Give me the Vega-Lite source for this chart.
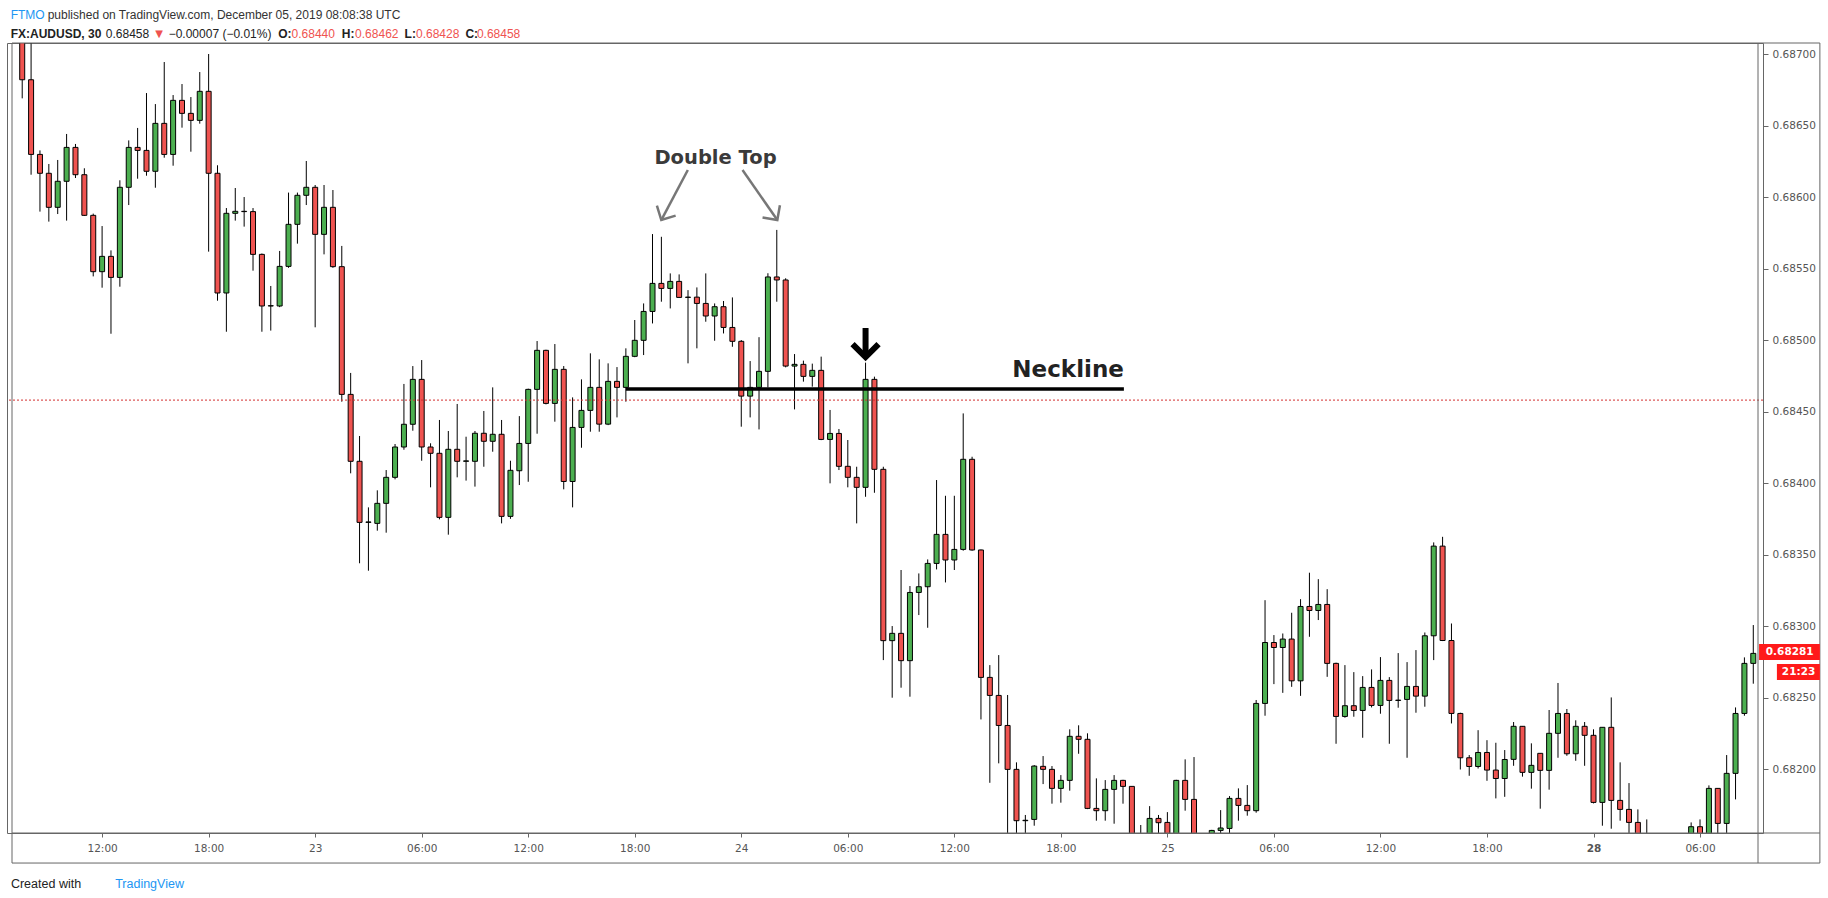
{
"$schema": "https://vega.github.io/schema/vega-lite/v6.json",
"width": 1756, "height": 790,
"autosize": {"type": "none"},
"padding": {"left": 7, "top": 43, "right": 65, "bottom": 65},
"background": "white",
"config": {"view": {"stroke": "#666", "strokeWidth": 1}},
"datasets": {"bars": [
{"n":0,"open":0.68712,"high":0.6872,"low":0.68669,"close":0.68682},
{"n":1,"open":0.68682,"high":0.68712,"low":0.686156,"close":0.686298},
{"n":2,"open":0.686298,"high":0.686326,"low":0.685898,"close":0.686166},
{"n":3,"open":0.686166,"high":0.686231,"low":0.685828,"close":0.685928},
{"n":4,"open":0.685928,"high":0.686259,"low":0.685881,"close":0.68611},
{"n":5,"open":0.68611,"high":0.686441,"low":0.685835,"close":0.686347},
{"n":6,"open":0.686347,"high":0.686371,"low":0.686133,"close":0.686156},
{"n":7,"open":0.686156,"high":0.686201,"low":0.685868,"close":0.685872},
{"n":8,"open":0.685872,"high":0.685884,"low":0.685445,"close":0.685478},
{"n":9,"open":0.685478,"high":0.685797,"low":0.685366,"close":0.685585},
{"n":10,"open":0.685585,"high":0.685627,"low":0.685044,"close":0.685438},
{"n":11,"open":0.685438,"high":0.686117,"low":0.685373,"close":0.686068},
{"n":12,"open":0.686068,"high":0.686396,"low":0.685944,"close":0.686347},
{"n":13,"open":0.686347,"high":0.686483,"low":0.686128,"close":0.686326},
{"n":14,"open":0.686326,"high":0.686727,"low":0.686149,"close":0.68618},
{"n":15,"open":0.68618,"high":0.68665,"low":0.686065,"close":0.686515},
{"n":16,"open":0.686515,"high":0.686944,"low":0.686275,"close":0.686298},
{"n":17,"open":0.686298,"high":0.686713,"low":0.686219,"close":0.686676},
{"n":18,"open":0.686676,"high":0.68679,"low":0.686485,"close":0.686585},
{"n":19,"open":0.686585,"high":0.686699,"low":0.686317,"close":0.686536},
{"n":20,"open":0.686536,"high":0.686874,"low":0.686513,"close":0.686739},
{"n":21,"open":0.686739,"high":0.687,"low":0.685618,"close":0.686166},
{"n":22,"open":0.686166,"high":0.686222,"low":0.685275,"close":0.685329},
{"n":23,"open":0.685329,"high":0.685923,"low":0.685058,"close":0.685886},
{"n":24,"open":0.685886,"high":0.686063,"low":0.685835,"close":0.6859},
{"n":25,"open":0.6859,"high":0.686,"low":0.685793,"close":0.685898},
{"n":26,"open":0.685898,"high":0.685923,"low":0.685485,"close":0.685599},
{"n":27,"open":0.685599,"high":0.685605,"low":0.685058,"close":0.685238},
{"n":28,"open":0.685238,"high":0.685378,"low":0.685066,"close":0.68524},
{"n":29,"open":0.685238,"high":0.685623,"low":0.68523,"close":0.685515},
{"n":30,"open":0.685515,"high":0.686031,"low":0.685505,"close":0.685809},
{"n":31,"open":0.685809,"high":0.686031,"low":0.685674,"close":0.686012},
{"n":32,"open":0.686012,"high":0.686252,"low":0.685944,"close":0.686068},
{"n":33,"open":0.686068,"high":0.686084,"low":0.685089,"close":0.685739},
{"n":34,"open":0.685739,"high":0.686084,"low":0.685599,"close":0.685928},
{"n":35,"open":0.685928,"high":0.686049,"low":0.685505,"close":0.685513},
{"n":36,"open":0.685513,"high":0.685658,"low":0.684569,"close":0.68462},
{"n":37,"open":0.68462,"high":0.68477,"low":0.684068,"close":0.684152},
{"n":38,"open":0.684152,"high":0.684329,"low":0.683439,"close":0.683725},
{"n":39,"open":0.683725,"high":0.68383,"low":0.683387,"close":0.683728},
{"n":40,"open":0.683718,"high":0.683949,"low":0.683667,"close":0.683858},
{"n":41,"open":0.683858,"high":0.684091,"low":0.683653,"close":0.68404},
{"n":42,"open":0.68404,"high":0.684273,"low":0.684026,"close":0.684252},
{"n":43,"open":0.684252,"high":0.684693,"low":0.684233,"close":0.684411},
{"n":44,"open":0.684411,"high":0.684818,"low":0.684366,"close":0.684725},
{"n":45,"open":0.684725,"high":0.68486,"low":0.684156,"close":0.684252},
{"n":46,"open":0.684252,"high":0.684278,"low":0.68397,"close":0.684208},
{"n":47,"open":0.684208,"high":0.684441,"low":0.683746,"close":0.68376},
{"n":48,"open":0.68376,"high":0.684364,"low":0.683639,"close":0.684236},
{"n":49,"open":0.684236,"high":0.684553,"low":0.68404,"close":0.684152},
{"n":50,"open":0.684152,"high":0.684324,"low":0.684017,"close":0.684155},
{"n":51,"open":0.684152,"high":0.684364,"low":0.683975,"close":0.684348},
{"n":52,"open":0.684348,"high":0.684504,"low":0.684114,"close":0.684292},
{"n":53,"open":0.684292,"high":0.684669,"low":0.684219,"close":0.684341},
{"n":54,"open":0.684341,"high":0.684441,"low":0.683718,"close":0.683767},
{"n":55,"open":0.683767,"high":0.684156,"low":0.68375,"close":0.684089},
{"n":56,"open":0.684086,"high":0.684468,"low":0.683986,"close":0.684277},
{"n":57,"open":0.684277,"high":0.68466,"low":0.684009,"close":0.684655},
{"n":58,"open":0.684655,"high":0.684993,"low":0.684345,"close":0.684928},
{"n":59,"open":0.684928,"high":0.684932,"low":0.68455,"close":0.684557},
{"n":60,"open":0.684557,"high":0.684972,"low":0.684429,"close":0.684795},
{"n":61,"open":0.684795,"high":0.684818,"low":0.683956,"close":0.684011},
{"n":62,"open":0.684011,"high":0.684599,"low":0.68383,"close":0.684389},
{"n":63,"open":0.684389,"high":0.684725,"low":0.684247,"close":0.684508},
{"n":64,"open":0.684508,"high":0.684907,"low":0.684359,"close":0.684669},
{"n":65,"open":0.684669,"high":0.684865,"low":0.684359,"close":0.684412},
{"n":66,"open":0.684412,"high":0.684837,"low":0.684405,"close":0.684711},
{"n":67,"open":0.684711,"high":0.684811,"low":0.684459,"close":0.684669},
{"n":68,"open":0.684669,"high":0.684942,"low":0.684569,"close":0.684886},
{"n":69,"open":0.684886,"high":0.68514,"low":0.68488,"close":0.684998},
{"n":70,"open":0.684998,"high":0.685256,"low":0.684895,"close":0.6852},
{"n":71,"open":0.6852,"high":0.685741,"low":0.685116,"close":0.685396},
{"n":72,"open":0.685396,"high":0.685722,"low":0.685268,"close":0.685361},
{"n":73,"open":0.685361,"high":0.685466,"low":0.685221,"close":0.68541},
{"n":74,"open":0.68541,"high":0.685459,"low":0.685295,"close":0.685298},
{"n":75,"open":0.685298,"high":0.685349,"low":0.684837,"close":0.6853},
{"n":76,"open":0.6853,"high":0.685368,"low":0.684942,"close":0.685256},
{"n":77,"open":0.685256,"high":0.685466,"low":0.685128,"close":0.685168},
{"n":78,"open":0.685168,"high":0.685256,"low":0.684995,"close":0.685233},
{"n":79,"open":0.685233,"high":0.685273,"low":0.685046,"close":0.685088},
{"n":80,"open":0.685088,"high":0.685298,"low":0.684953,"close":0.684991},
{"n":81,"open":0.684991,"high":0.685,"low":0.684394,"close":0.684608},
{"n":82,"open":0.684608,"high":0.684853,"low":0.684459,"close":0.684669},
{"n":83,"open":0.684669,"high":0.68502,"low":0.684375,"close":0.684781},
{"n":84,"open":0.684781,"high":0.685467,"low":0.684669,"close":0.685441},
{"n":85,"open":0.685441,"high":0.68577,"low":0.685268,"close":0.68542},
{"n":86,"open":0.68542,"high":0.685432,"low":0.684809,"close":0.684818},
{"n":87,"open":0.684818,"high":0.684902,"low":0.684515,"close":0.68483},
{"n":88,"open":0.68483,"high":0.684856,"low":0.684709,"close":0.684746},
{"n":89,"open":0.684746,"high":0.684835,"low":0.684674,"close":0.684788},
{"n":90,"open":0.684788,"high":0.684884,"low":0.6843,"close":0.684305},
{"n":91,"open":0.684305,"high":0.684511,"low":0.683998,"close":0.684347},
{"n":92,"open":0.684347,"high":0.684378,"low":0.684091,"close":0.684117},
{"n":93,"open":0.684117,"high":0.684301,"low":0.68397,"close":0.68404},
{"n":94,"open":0.68404,"high":0.684114,"low":0.683718,"close":0.68397},
{"n":95,"open":0.68397,"high":0.684842,"low":0.683904,"close":0.684725},
{"n":96,"open":0.684725,"high":0.684744,"low":0.683932,"close":0.684096},
{"n":97,"open":0.684096,"high":0.684114,"low":0.682762,"close":0.682898},
{"n":98,"open":0.682898,"high":0.683,"low":0.682499,"close":0.682949},
{"n":99,"open":0.682949,"high":0.683392,"low":0.682569,"close":0.682758},
{"n":100,"open":0.682758,"high":0.68328,"low":0.682506,"close":0.683235},
{"n":101,"open":0.683235,"high":0.683368,"low":0.683077,"close":0.683275},
{"n":102,"open":0.683275,"high":0.683466,"low":0.682988,"close":0.683438},
{"n":103,"open":0.683438,"high":0.684021,"low":0.683396,"close":0.683641},
{"n":104,"open":0.683641,"high":0.683911,"low":0.683305,"close":0.683462},
{"n":105,"open":0.683462,"high":0.683911,"low":0.683392,"close":0.683536},
{"n":106,"open":0.683536,"high":0.684487,"low":0.683527,"close":0.684166},
{"n":107,"open":0.684166,"high":0.684184,"low":0.683527,"close":0.683532},
{"n":108,"open":0.683532,"high":0.683535,"low":0.682347,"close":0.682641},
{"n":109,"open":0.682641,"high":0.682727,"low":0.681904,"close":0.682515},
{"n":110,"open":0.682515,"high":0.682797,"low":0.68204,"close":0.682305},
{"n":111,"open":0.682305,"high":0.682518,"low":0.6815,"close":0.681998},
{"n":112,"open":0.681998,"high":0.682047,"low":0.6815,"close":0.681639},
{"n":113,"open":0.681639,"high":0.681679,"low":0.6815,"close":0.681642},
{"n":114,"open":0.681648,"high":0.682028,"low":0.681604,"close":0.682021},
{"n":115,"open":0.682019,"high":0.682091,"low":0.681895,"close":0.681998},
{"n":116,"open":0.681998,"high":0.682021,"low":0.681758,"close":0.681865},
{"n":117,"open":0.681865,"high":0.681958,"low":0.681765,"close":0.681921},
{"n":118,"open":0.681921,"high":0.682278,"low":0.681849,"close":0.682229},
{"n":119,"open":0.682229,"high":0.682306,"low":0.682107,"close":0.682208},
{"n":120,"open":0.682208,"high":0.68225,"low":0.68172,"close":0.681725},
{"n":121,"open":0.681725,"high":0.681935,"low":0.681639,"close":0.681709},
{"n":122,"open":0.681709,"high":0.681923,"low":0.681639,"close":0.681858},
{"n":123,"open":0.681858,"high":0.681958,"low":0.681618,"close":0.681921},
{"n":124,"open":0.681921,"high":0.681925,"low":0.681758,"close":0.681879},
{"n":125,"open":0.681879,"high":0.68188,"low":0.6814,"close":0.68145},
{"n":126,"open":0.68145,"high":0.681609,"low":0.68135,"close":0.68148},
{"n":127,"open":0.68148,"high":0.681741,"low":0.68145,"close":0.681655},
{"n":128,"open":0.681655,"high":0.681679,"low":0.68155,"close":0.681625},
{"n":129,"open":0.681627,"high":0.681699,"low":0.68145,"close":0.6815},
{"n":130,"open":0.6815,"high":0.681925,"low":0.68148,"close":0.681921},
{"n":131,"open":0.681921,"high":0.682068,"low":0.681709,"close":0.681788},
{"n":132,"open":0.681788,"high":0.682084,"low":0.6814,"close":0.68145},
{"n":133,"open":0.68145,"high":0.68154,"low":0.68142,"close":0.6815},
{"n":134,"open":0.6815,"high":0.681575,"low":0.68148,"close":0.681571},
{"n":135,"open":0.681571,"high":0.681713,"low":0.68154,"close":0.681588},
{"n":136,"open":0.681585,"high":0.681811,"low":0.68154,"close":0.681795},
{"n":137,"open":0.681795,"high":0.681865,"low":0.681639,"close":0.681746},
{"n":138,"open":0.681746,"high":0.681888,"low":0.681674,"close":0.681709},
{"n":139,"open":0.681709,"high":0.682483,"low":0.681695,"close":0.682459},
{"n":140,"open":0.682459,"high":0.683181,"low":0.682373,"close":0.682885},
{"n":141,"open":0.682885,"high":0.682937,"low":0.682594,"close":0.68285},
{"n":142,"open":0.68285,"high":0.682948,"low":0.682533,"close":0.682909},
{"n":143,"open":0.682909,"high":0.683093,"low":0.682575,"close":0.682617},
{"n":144,"open":0.682617,"high":0.683188,"low":0.682512,"close":0.683137},
{"n":145,"open":0.683137,"high":0.683373,"low":0.682925,"close":0.683109},
{"n":146,"open":0.683109,"high":0.683328,"low":0.683042,"close":0.683151},
{"n":147,"open":0.683151,"high":0.683258,"low":0.682645,"close":0.682739},
{"n":148,"open":0.682739,"high":0.682744,"low":0.682177,"close":0.682368},
{"n":149,"open":0.682368,"high":0.682727,"low":0.682359,"close":0.682443},
{"n":150,"open":0.682443,"high":0.682678,"low":0.682366,"close":0.68241},
{"n":151,"open":0.68241,"high":0.68265,"low":0.682219,"close":0.682571},
{"n":152,"open":0.682571,"high":0.682697,"low":0.682431,"close":0.682445},
{"n":153,"open":0.682445,"high":0.682783,"low":0.682387,"close":0.68262},
{"n":154,"open":0.68262,"high":0.682643,"low":0.682177,"close":0.68248},
{"n":155,"open":0.68248,"high":0.682811,"low":0.682429,"close":0.682482},
{"n":156,"open":0.682487,"high":0.682748,"low":0.682079,"close":0.682578},
{"n":157,"open":0.682578,"high":0.682832,"low":0.682394,"close":0.68251},
{"n":158,"open":0.68251,"high":0.682955,"low":0.682436,"close":0.682932},
{"n":159,"open":0.682932,"high":0.683585,"low":0.682762,"close":0.683559},
{"n":160,"open":0.683559,"high":0.683624,"low":0.682895,"close":0.682899},
{"n":161,"open":0.682899,"high":0.683018,"low":0.682319,"close":0.682389},
{"n":162,"open":0.682389,"high":0.682394,"low":0.681997,"close":0.682079},
{"n":163,"open":0.682079,"high":0.682098,"low":0.681953,"close":0.682018},
{"n":164,"open":0.682018,"high":0.682272,"low":0.682004,"close":0.682116},
{"n":165,"open":0.682116,"high":0.682202,"low":0.681918,"close":0.681993},
{"n":166,"open":0.681993,"high":0.682184,"low":0.681795,"close":0.681934},
{"n":167,"open":0.681934,"high":0.682133,"low":0.681806,"close":0.682067},
{"n":168,"open":0.682068,"high":0.682329,"low":0.682023,"close":0.682299},
{"n":169,"open":0.682299,"high":0.6823,"low":0.681947,"close":0.681977},
{"n":170,"open":0.681977,"high":0.68218,"low":0.681863,"close":0.682026},
{"n":171,"open":0.68211,"high":0.68211,"low":0.681723,"close":0.681991},
{"n":172,"open":0.681991,"high":0.682413,"low":0.681856,"close":0.68225},
{"n":173,"open":0.68225,"high":0.682602,"low":0.682079,"close":0.682389},
{"n":174,"open":0.682389,"high":0.68242,"low":0.682093,"close":0.682107},
{"n":175,"open":0.682107,"high":0.682341,"low":0.682058,"close":0.682299},
{"n":176,"open":0.682299,"high":0.682329,"low":0.682023,"close":0.682236},
{"n":177,"open":0.682236,"high":0.682278,"low":0.68176,"close":0.681767},
{"n":178,"open":0.681767,"high":0.682292,"low":0.681604,"close":0.682292},
{"n":179,"open":0.682292,"high":0.682501,"low":0.681583,"close":0.681781},
{"n":180,"open":0.681781,"high":0.682047,"low":0.681639,"close":0.681718},
{"n":181,"open":0.681718,"high":0.681902,"low":0.68152,"close":0.681627},
{"n":182,"open":0.681627,"high":0.681718,"low":0.68145,"close":0.6815},
{"n":183,"open":0.6815,"high":0.681648,"low":0.6814,"close":0.68148},
{"n":184,"open":0.68148,"high":0.68153,"low":0.6814,"close":0.68146},
{"n":185,"open":0.68146,"high":0.68153,"low":0.68142,"close":0.68147},
{"n":186,"open":0.68147,"high":0.68154,"low":0.68143,"close":0.68149},
{"n":187,"open":0.68149,"high":0.68154,"low":0.68142,"close":0.68148},
{"n":188,"open":0.68148,"high":0.681627,"low":0.68145,"close":0.681597},
{"n":189,"open":0.681597,"high":0.681648,"low":0.68145,"close":0.6815},
{"n":190,"open":0.6815,"high":0.681886,"low":0.68148,"close":0.681865},
{"n":191,"open":0.681865,"high":0.681865,"low":0.68155,"close":0.68162},
{"n":192,"open":0.68162,"high":0.682098,"low":0.68155,"close":0.68197},
{"n":193,"open":0.68197,"high":0.682431,"low":0.681788,"close":0.682389},
{"n":194,"open":0.682389,"high":0.682781,"low":0.682373,"close":0.682739},
{"n":195,"open":0.682739,"high":0.683007,"low":0.682597,"close":0.682809}
]},
"data": {"name": "bars"},
"layer": [
{"mark": {"type": "rule", "color": "#000000", "strokeWidth": 1, "clip": true},
 "encoding": {
  "x": {"field": "n", "type": "quantitative",
        "scale": {"domain": [-1.15, 195.53], "nice": false, "zero": false},
        "axis": {"title": null, "grid": false, "domain": false,
                 "values": [9,21,33,45,57,69,81,93,105,117,129,141,153,165,177,189],
                 "labelExpr": "['12:00','18:00','23','06:00','12:00','18:00','24','06:00','12:00','18:00','25','06:00','12:00','18:00','28','06:00'][(datum.value-9)/12]",
                 "tickSize": 4, "tickColor": "#666", "labelFont": "DejaVu Sans", "labelFontSize": 10.5,
                 "labelColor": "#555", "labelPadding": 6, "labelOverlap": false, "labelFlush": false,
                 "labelFontWeight": {"condition": {"test": "datum.value == 177", "value": "bold"}, "value": "normal"}}},
  "y": {"field": "low", "type": "quantitative",
        "scale": {"domain": [0.681553, 0.687077], "nice": false, "zero": false},
        "axis": {"orient": "right", "title": null, "grid": false, "domain": false,
                 "values": [0.682,0.6825,0.683,0.6835,0.684,0.6845,0.685,0.6855,0.686,0.6865,0.687],
                 "format": ".5f", "tickSize": 5, "tickColor": "#666", "labelFont": "DejaVu Sans",
                 "labelFontSize": 10.5, "labelColor": "#555", "labelPadding": 4}},
  "y2": {"field": "high"}}},
{"mark": {"type": "bar", "width": 5, "stroke": "#000000", "strokeWidth": 1, "clip": true},
 "encoding": {
  "x": {"field": "n", "type": "quantitative"},
  "y": {"field": "open", "type": "quantitative"},
  "y2": {"field": "close"},
  "color": {"condition": {"test": "datum.close >= datum.open", "value": "#4caf50"}, "value": "#ef5350"}}},
{"data": {"values": [{}]}, "mark": {"type": "rule", "color": "#d32f2f", "strokeWidth": 1, "strokeDash": [2, 2]},
 "encoding": {"y": {"datum": 0.68458}}},
{"data": {"values": [{}]}, "mark": {"type": "rule", "color": "#000000", "strokeWidth": 3.5},
 "encoding": {"x": {"datum": 68}, "x2": {"datum": 124.1}, "y": {"datum": 0.684657}}},
{"data": {"values": [{}]}, "mark": {"type": "text", "text": "Neckline", "font": "DejaVu Sans", "fontWeight": "bold", "fontSize": 23, "color": "#222222", "align": "right", "baseline": "alphabetic"},
 "encoding": {"x": {"datum": 124.1}, "y": {"datum": 0.684744}}},
{"data": {"values": [{}]}, "mark": {"type": "text", "text": "Double Top", "font": "DejaVu Sans", "fontWeight": "bold", "fontSize": 19.5, "color": "#3a3a3a", "align": "center", "baseline": "middle"},
 "encoding": {"x": {"datum": 78.1}, "y": {"datum": 0.686271}}},
{"data": {"values": [{}]}, "mark": {"type": "rule", "color": "#777777", "strokeWidth": 2.5},
 "encoding": {"x": {"datum": 74.98}, "y": {"datum": 0.686189}, "x2": {"datum": 71.99}, "y2": {"datum": 0.685839}}},
{"data": {"values": [{}]}, "mark": {"type": "rule", "color": "#777777", "strokeWidth": 2.5},
 "encoding": {"x": {"datum": 81.14}, "y": {"datum": 0.686189}, "x2": {"datum": 85.06}, "y2": {"datum": 0.685839}}},
{"data": {"values": [{}]}, "mark": {"type": "point", "shape": "M-1,-1L0,0L-1,1", "filled": false, "stroke": "#777777", "strokeWidth": 2.5, "size": 450, "angle": 118, "opacity": 1},
 "encoding": {"x": {"datum": 71.99}, "y": {"datum": 0.685839}}},
{"data": {"values": [{}]}, "mark": {"type": "point", "shape": "M-1,-1L0,0L-1,1", "filled": false, "stroke": "#777777", "strokeWidth": 2.5, "size": 450, "angle": 55, "opacity": 1},
 "encoding": {"x": {"datum": 85.06}, "y": {"datum": 0.685839}}},
{"data": {"values": [{}]}, "mark": {"type": "rule", "color": "#000000", "strokeWidth": 6},
 "encoding": {"x": {"datum": 95}, "y": {"datum": 0.685084}, "y2": {"datum": 0.684895}}},
{"data": {"values": [{}]}, "mark": {"type": "point", "shape": "M-1,-1L0,0L-1,1", "filled": false, "stroke": "#000000", "strokeWidth": 6, "size": 676, "angle": 90, "opacity": 1},
 "encoding": {"x": {"datum": 95}, "y": {"datum": 0.684881}}},
{"data": {"values": [{}]}, "mark": {"type": "rect", "filled": false, "stroke": "#666", "strokeWidth": 1},
 "encoding": {"x": {"datum": -1.15}, "x2": {"datum": 202.5}, "y": {"datum": 0.687077}, "y2": {"datum": 0.681343}}},
{"data": {"values": [{}]}, "mark": {"type": "rule", "color": "#666", "strokeWidth": 1},
 "encoding": {"x": {"datum": 195.53}, "y": {"datum": 0.687077}, "y2": {"datum": 0.681343}}},
{"data": {"values": [{}]}, "mark": {"type": "rule", "color": "#666", "strokeWidth": 1},
 "encoding": {"x": {"datum": -1.15}, "x2": {"datum": 202.5}, "y": {"datum": 0.681553}}},
{"data": {"values": [{}]}, "mark": {"type": "rect", "color": "#ff1a1a"},
 "encoding": {"x": {"datum": 195.65}, "x2": {"datum": 202.5}, "y": {"datum": 0.682874}, "y2": {"datum": 0.682762}}},
{"data": {"values": [{}]}, "mark": {"type": "text", "text": "0.68281", "font": "DejaVu Sans", "fontWeight": "bold", "fontSize": 10.5, "color": "#ffffff", "align": "center", "baseline": "middle"},
 "encoding": {"x": {"datum": 199.1}, "y": {"datum": 0.682818}}},
{"data": {"values": [{}]}, "mark": {"type": "rect", "color": "#ff1a1a"},
 "encoding": {"x": {"datum": 197.66}, "x2": {"datum": 202.5}, "y": {"datum": 0.682734}, "y2": {"datum": 0.682622}}},
{"data": {"values": [{}]}, "mark": {"type": "text", "text": "21:23", "font": "DejaVu Sans", "fontWeight": "bold", "fontSize": 10.5, "color": "#ffffff", "align": "center", "baseline": "middle"},
 "encoding": {"x": {"datum": 200.1}, "y": {"datum": 0.682678}}},
{"data": {"values": [{}]}, "mark": {"type": "text", "text": "FTMO", "font": "Liberation Sans", "fontSize": 12, "color": "#2196f3", "align": "left", "baseline": "middle"},
 "encoding": {"x": {"datum": -1.3}, "y": {"datum": 0.687271}}},
{"data": {"values": [{}]}, "mark": {"type": "text", "text": "published on TradingView.com, December 05, 2019 08:08:38 UTC", "font": "Liberation Sans", "fontSize": 12, "color": "#333333", "align": "left", "baseline": "middle"},
 "encoding": {"x": {"datum": 2.87}, "y": {"datum": 0.687271}}},
{"data": {"values": [{}]}, "mark": {"type": "text", "text": "FX:AUDUSD, 30", "font": "Liberation Sans", "fontWeight": "bold", "fontSize": 12, "color": "#222222", "align": "left", "baseline": "middle"},
 "encoding": {"x": {"datum": -1.3}, "y": {"datum": 0.687137}}},
{"data": {"values": [{}]}, "mark": {"type": "text", "text": "0.68458", "font": "Liberation Sans", "fontSize": 12, "color": "#222222", "align": "left", "baseline": "middle"},
 "encoding": {"x": {"datum": 9.42}, "y": {"datum": 0.687137}}},
{"data": {"values": [{}]}, "mark": {"type": "text", "text": "▼", "font": "DejaVu Sans", "fontSize": 10, "color": "#ef5350", "align": "left", "baseline": "middle"},
 "encoding": {"x": {"datum": 15.0}, "y": {"datum": 0.687137}}},
{"data": {"values": [{}]}, "mark": {"type": "text", "text": "−0.00007 (−0.01%)", "font": "Liberation Sans", "fontSize": 12, "color": "#222222", "align": "left", "baseline": "middle"},
 "encoding": {"x": {"datum": 16.5}, "y": {"datum": 0.687137}}},
{"data": {"values": [{}]}, "mark": {"type": "text", "text": "O:", "font": "Liberation Sans", "fontWeight": "bold", "fontSize": 12, "color": "#222222", "align": "left", "baseline": "middle"},
 "encoding": {"x": {"datum": 28.84}, "y": {"datum": 0.687137}}},
{"data": {"values": [{}]}, "mark": {"type": "text", "text": "0.68440", "font": "Liberation Sans", "fontSize": 12, "color": "#ef5350", "align": "left", "baseline": "middle"},
 "encoding": {"x": {"datum": 30.34}, "y": {"datum": 0.687137}}},
{"data": {"values": [{}]}, "mark": {"type": "text", "text": "H:", "font": "Liberation Sans", "fontWeight": "bold", "fontSize": 12, "color": "#222222", "align": "left", "baseline": "middle"},
 "encoding": {"x": {"datum": 36.0}, "y": {"datum": 0.687137}}},
{"data": {"values": [{}]}, "mark": {"type": "text", "text": "0.68462", "font": "Liberation Sans", "fontSize": 12, "color": "#ef5350", "align": "left", "baseline": "middle"},
 "encoding": {"x": {"datum": 37.5}, "y": {"datum": 0.687137}}},
{"data": {"values": [{}]}, "mark": {"type": "text", "text": "L:", "font": "Liberation Sans", "fontWeight": "bold", "fontSize": 12, "color": "#222222", "align": "left", "baseline": "middle"},
 "encoding": {"x": {"datum": 43.07}, "y": {"datum": 0.687137}}},
{"data": {"values": [{}]}, "mark": {"type": "text", "text": "0.68428", "font": "Liberation Sans", "fontSize": 12, "color": "#ef5350", "align": "left", "baseline": "middle"},
 "encoding": {"x": {"datum": 44.36}, "y": {"datum": 0.687137}}},
{"data": {"values": [{}]}, "mark": {"type": "text", "text": "C:", "font": "Liberation Sans", "fontWeight": "bold", "fontSize": 12, "color": "#222222", "align": "left", "baseline": "middle"},
 "encoding": {"x": {"datum": 49.93}, "y": {"datum": 0.687137}}},
{"data": {"values": [{}]}, "mark": {"type": "text", "text": "0.68458", "font": "Liberation Sans", "fontSize": 12, "color": "#ef5350", "align": "left", "baseline": "middle"},
 "encoding": {"x": {"datum": 51.22}, "y": {"datum": 0.687137}}},
{"data": {"values": [{}]}, "mark": {"type": "text", "text": "Created with", "font": "Liberation Sans", "fontSize": 12.5, "color": "#222222", "align": "left", "baseline": "middle"},
 "encoding": {"x": {"datum": -1.27}, "y": {"datum": 0.681196}}},
{"data": {"values": [{}]}, "mark": {"type": "text", "text": "TradingView", "font": "Liberation Sans", "fontSize": 12.5, "color": "#2196f3", "align": "left", "baseline": "middle"},
 "encoding": {"x": {"datum": 10.47}, "y": {"datum": 0.681196}}}
]
}
